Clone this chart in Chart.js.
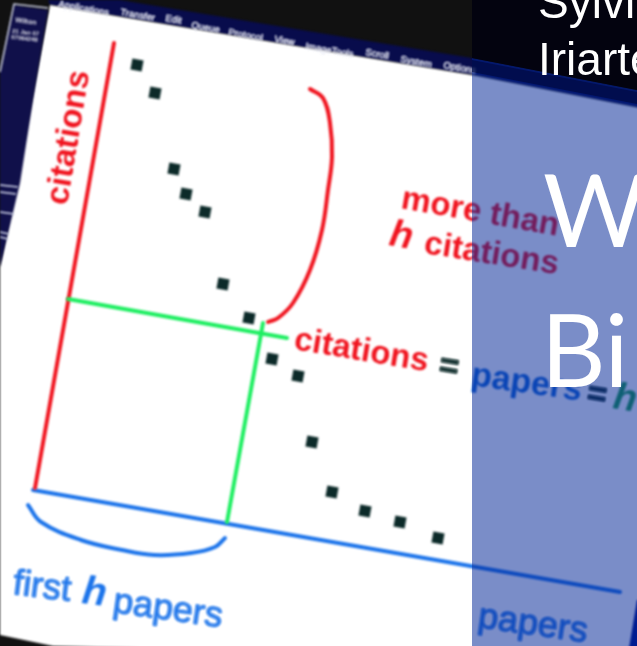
<!DOCTYPE html>
<html>
<head>
<meta charset="utf-8">
<style>html,body{margin:0;padding:0;background:#000;overflow:hidden}canvas{display:block}</style>
<script src="https://cdn.jsdelivr.net/npm/chart.js@4"></script>
</head>
<body>
<canvas id="customChart" width="637" height="646"></canvas>
<script>
let paperX = [137, 155, 174, 186, 205, 223, 249, 272, 298, 312, 332, 365, 400, 438];
let paperY = [65, 93, 169, 194, 212, 284, 318, 359, 376, 442, 492, 511, 522, 538];

let citationsAxisX = [114, 35];
let citationsAxisY = [43, 488];
let papersAxisX = [33, 620];
let papersAxisY = [490, 592];
let hLineX = [68, 287];
let hLineY = [299, 338];
let hDropX = [263, 227];
let hDropY = [323, 522];

let redBraceX = [310, 323, 330, 332, 328, 322, 310, 293, 278, 268];
let redBraceY = [89, 98, 123, 157, 190, 230, 270, 303, 318, 322];
let blueBraceX = [28, 41, 81, 122, 154, 191, 215, 225];
let blueBraceY = [505, 522, 540, 550, 555, 553, 547, 538];

let menuLabels = ['Applications', 'Transfer', 'Edit', 'Queue', 'Protocol', 'View', 'ImageTools', 'Scroll', 'System', 'Options'];
let menuX = [58, 120, 165, 191, 228, 274, 305, 365, 400, 443];
let menuY = [7, 15, 21, 28, 35, 42, 49, 55, 62, 68];

const RED = '#f0141f', BLUE = '#1c74ea', GREEN = '#1cee60', DARK = '#0c2a29';

function zip(xs, ys) {
  return xs.map((x, i) => ({ x: x, y: ys[i] }));
}

function lineSet(xs, ys, color, width, tension) {
  return {
    type: 'line',
    data: zip(xs, ys),
    borderColor: color,
    borderWidth: width,
    tension: tension || 0,
    pointRadius: 0,
    borderCapStyle: 'round',
    clip: false
  };
}

function poly(ctx, pts, color) {
  ctx.fillStyle = color;
  ctx.beginPath();
  pts.forEach((p, i) => i ? ctx.lineTo(p[0], p[1]) : ctx.moveTo(p[0], p[1]));
  ctx.closePath();
  ctx.fill();
}

function label(ctx, text, x, y, deg, font, color, heavy) {
  ctx.save();
  ctx.translate(x, y);
  ctx.rotate(deg * Math.PI / 180);
  ctx.font = font;
  ctx.fillStyle = color;
  ctx.textBaseline = 'alphabetic';
  ctx.fillText(text, 0, 0);
  if (heavy) {
    ctx.strokeStyle = color;
    ctx.lineWidth = heavy;
    ctx.strokeText(text, 0, 0);
  }
  ctx.restore();
}

// the photographed screen behind the marks
let photoBehind = {
  id: 'photoBehind',
  beforeDatasetsDraw(chart) {
    let ctx = chart.ctx;
    ctx.save();
    ctx.fillStyle = '#111111';
    ctx.fillRect(0, 0, 637, 646);
    ctx.filter = 'blur(1px)';
    // menu bar
    poly(ctx, [[48, 0], [120, 0], [320, 33], [472, 58], [660, 95], [660, 112], [472, 75], [320, 50], [50, 5]], '#080c4c');
    // page
    poly(ctx, [[50, 5], [320, 50], [472, 75], [660, 112], [660, 660], [53, 646], [0, 635], [0, 267]], '#ffffff');
    // side bar
    poly(ctx, [[14, 5], [48, 10], [33, 100], [20, 183], [0, 267], [0, 72]], '#10104a');
    ctx.strokeStyle = '#d8dcf0';
    ctx.lineWidth = 1.5;
    ctx.beginPath();
    ctx.moveTo(48, 8); ctx.lineTo(14, 4); ctx.lineTo(0, 72);
    [[185, 18], [192, 16], [212, 14], [232, 9], [237, 8]].forEach(s => {
      ctx.moveTo(0, s[0]); ctx.lineTo(s[1], s[0] + 2);
    });
    ctx.stroke();
    label(ctx, 'Wilton', 15, 22, 8, 'bold 7px "Liberation Sans"', '#e8e8f0');
    label(ctx, '21 Jan 07', 12, 33, 6, 'bold 6px "Liberation Sans"', '#e8e8f0');
    label(ctx, '07064248', 11, 39, 6, 'bold 6px "Liberation Sans"', '#e8e8f0');
    // bottom right corner of the screen
    poly(ctx, [[637, 600], [660, 600], [660, 660], [627, 660]], '#00148c');

    menuLabels.forEach((t, i) => {
      label(ctx, t, menuX[i], menuY[i], 10, '9.5px "Liberation Sans"', '#eceef8', 0.3);
    });

    let b = 'bold 33px "Liberation Sans"', n = '36px "Liberation Sans"';
    let bi = 'italic bold 38px "Liberation Sans"';
    label(ctx, 'citations', 67, 206, -80.5, b, RED);
    label(ctx, 'more than', 400, 208, 10, b, RED);
    label(ctx, 'h', 388, 245, 10, bi, RED);
    label(ctx, 'citations', 423, 253, 9, b, RED);
    label(ctx, 'citations', 293, 349, 9.5, b, RED);
    label(ctx, '=', 438, 375, 9, b, DARK, 1.2);
    label(ctx, 'papers', 470, 385, 8, 'bold 34px "Liberation Sans"', '#1468d8');
    label(ctx, '=', 586, 403, 9, b, DARK, 1.2);
    label(ctx, 'h', 612, 408, 9, bi, '#1fa050');
    label(ctx, 'first', 12, 594, 7, n, BLUE, 0.8);
    label(ctx, 'h', 81, 603, 7, 'italic bold 40px "Liberation Sans"', BLUE);
    label(ctx, 'papers', 112, 612, 8, n, BLUE, 0.8);
    label(ctx, 'papers', 477, 627, 8, n, BLUE, 0.8);
  },
  afterDatasetsDraw(chart) {
    let ctx = chart.ctx;
    ctx.restore();
    ctx.save();
    // translucent slide panel, black above it
    poly(ctx, [[472, 58], [637, 90], [637, 646], [472, 646]], 'rgba(0,36,150,0.52)');
    poly(ctx, [[472, 60], [637, 92], [637, 104], [472, 72]], 'rgba(0,6,50,0.55)');
    poly(ctx, [[472, 0], [637, 0], [637, 90], [472, 58]], '#03030f');
    label(ctx, 'Sylvia', 538, 18, 0, '46px "Liberation Sans"', '#ffffff');
    label(ctx, 'Iriarte', 538, 75, 0, '46px "Liberation Sans"', '#ffffff');
    label(ctx, 'W', 543, 247, 0, '100px Lato', '#ffffff');
    label(ctx, 'Bi', 541, 387, 0, '100px Lato', '#ffffff');
    ctx.restore();
  }
};

let myChart = new Chart(document.getElementById('customChart').getContext('2d'), {
  type: 'scatter',
  data: {
    datasets: [
      {
        data: zip(paperX, paperY),
        backgroundColor: DARK,
        borderWidth: 0,
        pointStyle: 'rect',
        pointRotation: 10,
        pointRadius: 8,
        clip: false
      },
      lineSet(hDropX, hDropY, GREEN, 4),
      lineSet(hLineX, hLineY, GREEN, 4),
      lineSet(citationsAxisX, citationsAxisY, RED, 4),
      lineSet(papersAxisX, papersAxisY, BLUE, 4),
      lineSet(redBraceX, redBraceY, RED, 4, 0.4),
      lineSet(blueBraceX, blueBraceY, BLUE, 4, 0.4)
    ]
  },
  options: {
    responsive: false,
    animation: false,
    layout: { padding: 0 },
    plugins: { legend: { display: false }, tooltip: { enabled: false } },
    scales: {
      x: { type: 'linear', min: 0, max: 637, display: false },
      y: { type: 'linear', min: 0, max: 646, reverse: true, display: false }
    }
  },
  plugins: [photoBehind]
});

// the point size insets the chart area a little, so fit the scales to it
let area = myChart.chartArea;
myChart.options.scales.x.min = area.left;
myChart.options.scales.x.max = area.right;
myChart.options.scales.y.min = area.top;
myChart.options.scales.y.max = area.bottom;
myChart.update();
</script>
</body>
</html>
